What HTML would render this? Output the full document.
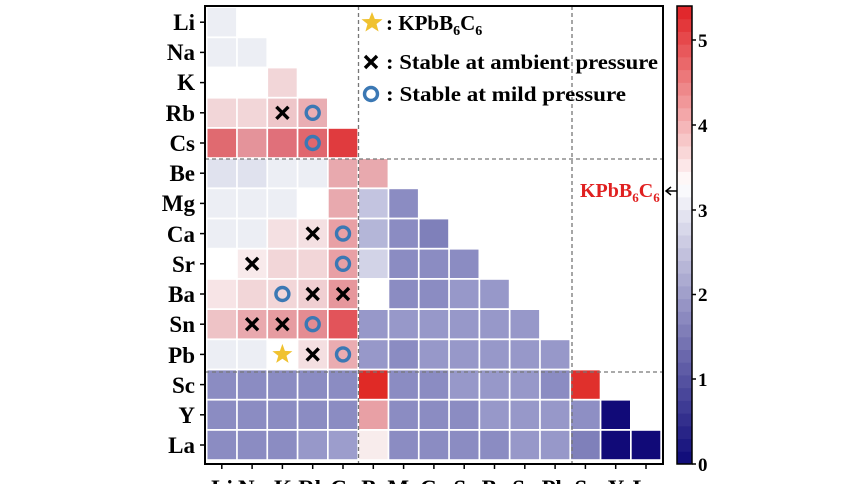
<!DOCTYPE html>
<html><head><meta charset="utf-8"><style>
html,body{margin:0;padding:0;background:#fff;width:860px;height:484px;overflow:hidden}
svg{display:block}
text{font-family:"Liberation Serif",serif;font-weight:bold}
</style></head><body>
<svg id="s" width="860" height="484" xmlns="http://www.w3.org/2000/svg">
<g id="cells"></g>
<g id="marks"></g>
<g stroke="#777" stroke-width="1.3" stroke-dasharray="4,3" fill="none">
<line x1="358.5" y1="6" x2="358.5" y2="464"/>
<line x1="572" y1="6" x2="572" y2="464"/>
<line x1="205" y1="159" x2="663" y2="159"/>
<line x1="205" y1="372" x2="663" y2="372"/>
</g>
<rect x="205" y="6" width="458" height="458" fill="none" stroke="#000" stroke-width="2"/>
<g id="ticks" stroke="#000" stroke-width="1.5"></g>
<g font-size="23" text-anchor="end">
<text x="195" y="30">Li</text><text x="195" y="60">Na</text><text x="195" y="90">K</text><text x="195" y="121">Rb</text><text x="195" y="151">Cs</text>
<text x="195" y="181">Be</text><text x="195" y="211">Mg</text><text x="195" y="242">Ca</text><text x="195" y="272">Sr</text><text x="195" y="302">Ba</text>
<text x="195" y="332">Sn</text><text x="195" y="363">Pb</text><text x="195" y="393">Sc</text><text x="195" y="423">Y</text><text x="195" y="453">La</text>
</g>
<g font-size="23" text-anchor="middle">
<text x="222" y="496">Li</text><text x="252" y="496">Na</text><text x="283" y="496">K</text><text x="313" y="496">Rb</text><text x="343" y="496">Cs</text>
<text x="374" y="496">Be</text><text x="404" y="496">Mg</text><text x="434" y="496">Ca</text><text x="465" y="496">Sr</text><text x="495" y="496">Ba</text>
<text x="525" y="496">Sn</text><text x="555" y="496">Pb</text><text x="586" y="496">Sc</text><text x="616" y="496">Y</text><text x="646" y="496">La</text>
</g>
<!-- legend -->
<polygon points="372,12 374.8,19 382.5,19.3 376.5,24 378.6,31.5 372,27.2 365.4,31.5 367.5,24 361.5,19.3 369.2,19" fill="#f0c230"/>
<text x="386" y="30" font-size="21">: KPbB<tspan font-size="14" dy="5">6</tspan><tspan dy="-5">C</tspan><tspan font-size="14" dy="5">6</tspan></text>
<g stroke="#000" stroke-width="3.4"><line x1="365" y1="56" x2="377" y2="68"/><line x1="377" y1="56" x2="365" y2="68"/></g>
<text x="386" y="69" font-size="21" textLength="272" lengthAdjust="spacingAndGlyphs">: Stable at ambient pressure</text>
<circle cx="371" cy="94" r="6.5" fill="none" stroke="#3b78b4" stroke-width="3.4"/>
<text x="386" y="101" font-size="21" textLength="240" lengthAdjust="spacingAndGlyphs">: Stable at mild pressure</text>
<!-- KPbB6C6 label -->
<text x="580" y="197" font-size="20" fill="#e02020">KPbB<tspan font-size="13" dy="5">6</tspan><tspan dy="-5">C</tspan><tspan font-size="13" dy="5">6</tspan></text>
<g stroke="#000" stroke-width="1.5" fill="none"><line x1="666" y1="191" x2="677" y2="191"/><polyline points="671,187 666,191 671,195"/></g>
<!-- colorbar -->
<g id="cbar"></g>
<rect x="677" y="6" width="15" height="458" fill="none" stroke="#000" stroke-width="1.5"/>
<g stroke="#000" stroke-width="1.5">
<line x1="692" y1="464" x2="696" y2="464"/><line x1="692" y1="379" x2="696" y2="379"/><line x1="692" y1="294.5" x2="696" y2="294.5"/><line x1="692" y1="210" x2="696" y2="210"/><line x1="692" y1="125" x2="696" y2="125"/><line x1="692" y1="40" x2="696" y2="40"/>
</g>
<g font-size="19">
<text x="698" y="471">0</text><text x="698" y="386">1</text><text x="698" y="301">2</text><text x="698" y="217">3</text><text x="698" y="132">4</text><text x="698" y="47">5</text>
</g>
</svg>
<script>
var B='#8b8cc2',b2='#9798c9',b3='#7f80ba',W='#ffffff',G='#eceef4';
var rows=[
[G],
[G,G],
[W,W,'#f2d6d8'],
['#f2d6d8','#f2d6d8','#eec6c9','#e9aeb3'],
['#e06a70','#e4939a','#e0707a','#e0676e','#e03b3e'],
['#e0e2ee','#e0e2ee',G,G,'#e8a9ae','#e8a9ae'],
[G,G,G,W,'#e8a9ae','#c3c4e0',B],
[G,G,'#f4e0e2','#f4e0e2','#e8a0a5','#b4b6d8',B,b3],
[W,'#f8eaeb','#f2d6d8','#f2d6d8','#e8a0a5','#d2d3e7',B,B,B],
['#f7e4e6','#f2d6d8','#f2d6d8','#f0cfd2','#e6979c',W,B,B,b2,b2],
['#eec3c6','#e9a9ae','#e69ca1','#e48c92','#e2545a',b2,b2,b2,b2,b2,b2],
[G,G,W,'#f4dfe1','#eaacb1',b2,B,b2,b2,b2,b2,b2],
[B,B,B,B,B,'#e02a26',B,B,b2,b2,b2,B,'#e0302c'],
[B,B,B,B,B,'#e8a0a5',B,B,B,b2,b2,b2,'#8e8fc4','#110a78'],
[B,B,B,b2,'#9c9dcc','#f8ecec',B,B,B,B,b2,b2,b3,'#110a78','#110a78']];
var ns='http://www.w3.org/2000/svg',c=document.getElementById('cells'),x0=207.5,y0=8,p=30.3,ph=30.2;
function el(t,a,par){var e=document.createElementNS(ns,t);for(var k in a)e.setAttribute(k,a[k]);par.appendChild(e);return e;}
rows.forEach(function(r,i){r.forEach(function(col,j){if(col!==W)el('rect',{x:x0+j*p,y:y0+i*ph,width:28.6,height:28.4,fill:col},c);});});
var m=document.getElementById('marks');
function X(j,i){var cx=x0+j*p+14.3,cy=y0+i*ph+14.2;el('line',{x1:cx-6,y1:cy-6,x2:cx+6,y2:cy+6,stroke:'#000','stroke-width':3.4},m);el('line',{x1:cx+6,y1:cy-6,x2:cx-6,y2:cy+6,stroke:'#000','stroke-width':3.4},m);}
function O(j,i){el('circle',{cx:x0+j*p+14.3,cy:y0+i*ph+14.2,r:6.5,fill:'none',stroke:'#3b78b4','stroke-width':3.4},m);}
X(2,3);O(3,3);O(3,4);X(3,7);O(4,7);X(1,8);O(4,8);O(2,9);X(3,9);X(4,9);X(1,10);X(2,10);O(3,10);X(3,11);O(4,11);
var cx=x0+2*p+14.3,cy=y0+11*ph+14.2,pts=[];for(var k=0;k<10;k++){var r=k%2?4.3:10.5,a=-Math.PI/2+k*Math.PI/5;pts.push((cx+r*Math.cos(a)).toFixed(1)+','+(cy+r*Math.sin(a)).toFixed(1));}
el('polygon',{points:pts.join(' '),fill:'#f0c230'},m);
var t=document.getElementById('ticks');
for(var j=0;j<15;j++){var x=x0+j*p+14.3;el('line',{x1:x,y1:464,x2:x,y2:469},t);var y=y0+j*ph+14.2;el('line',{x1:200,y1:y,x2:205,y2:y},t);}
var cb=document.getElementById('cbar'),N=36,vmax=5.4,mid=3.3;
function lerp(a,b,f){return Math.round(a+(b-a)*f);}
for(var k=0;k<N;k++){var v=(k+0.5)/N*vmax,col;
 if(v<mid){var f=v/mid;col='rgb('+lerp(12,255,f)+','+lerp(8,255,f)+','+lerp(120,255,f)+')';}
 else{var f=(v-mid)/(vmax-mid);col='rgb('+lerp(255,224,f)+','+lerp(255,32,f)+','+lerp(255,36,f)+')';}
 var h=458/N;el('rect',{x:677,y:464-(k+1)*h,width:15,height:h+0.5,fill:col},cb);}
</script>
</body></html>
